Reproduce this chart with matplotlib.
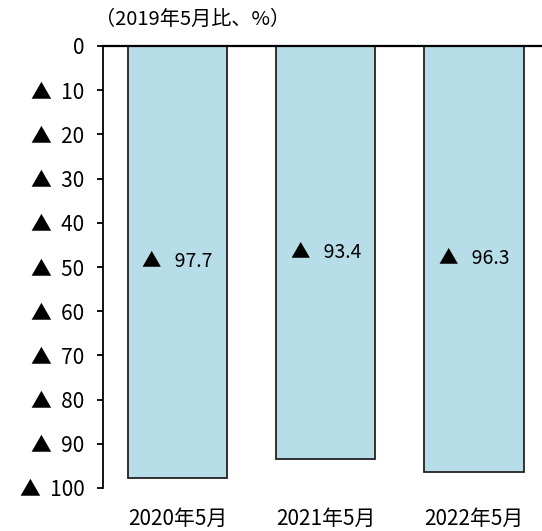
import matplotlib
matplotlib.use("Agg")
import matplotlib.pyplot as plt

plt.rcParams['font.family'] = ['Noto Sans CJK JP', 'DejaVu Sans']

categories = ["2020年5月", "2021年5月", "2022年5月"]
declines = [97.7, 93.4, 96.3]          # decline vs. May 2019, %
tick_values = [0, 10, 20, 30, 40, 50, 60, 70, 80, 90, 100]
unit_label = "（2019年5月比、%）"

fig = plt.figure(figsize=(5.42, 5.31), dpi=100)
ax = fig.add_axes([103 / 542, 1 - 488 / 531, 1 - 103 / 542 + 0.002, (488 - 46) / 531])

x = list(range(len(categories)))
vals = [-d for d in declines]
ax.bar(x, vals, width=0.67, color="#b7dde8", edgecolor="#222222", linewidth=1.3, zorder=2)

for xi, d in zip(x, declines):
    ax.text(xi, -d / 2, f"▲   {d:.1f}", ha="center", va="center", fontsize=14, zorder=3)

ax.set_ylim(-100, 0)
ax.set_xlim(-0.504, 2.467)
ax.set_yticks([-v for v in tick_values])
ax.set_yticklabels(["0" if v == 0 else f"▲  {v}" for v in tick_values], fontsize=15)
ax.set_xticks(x)
ax.set_xticklabels(categories, fontsize=15)
ax.tick_params(axis="x", length=0, pad=14)
ax.tick_params(axis="y", length=4.5, width=1.3, direction="out", pad=9)

for s in ["right", "bottom"]:
    ax.spines[s].set_visible(False)
ax.spines["left"].set_linewidth(1.3)
ax.spines["top"].set_linewidth(1.6)
ax.spines["top"].set_zorder(4)

fig.text(193 / 542, 1 - 19 / 531, unit_label, ha="center", va="center", fontsize=14.5)

fig.savefig("out.png", dpi=100)
